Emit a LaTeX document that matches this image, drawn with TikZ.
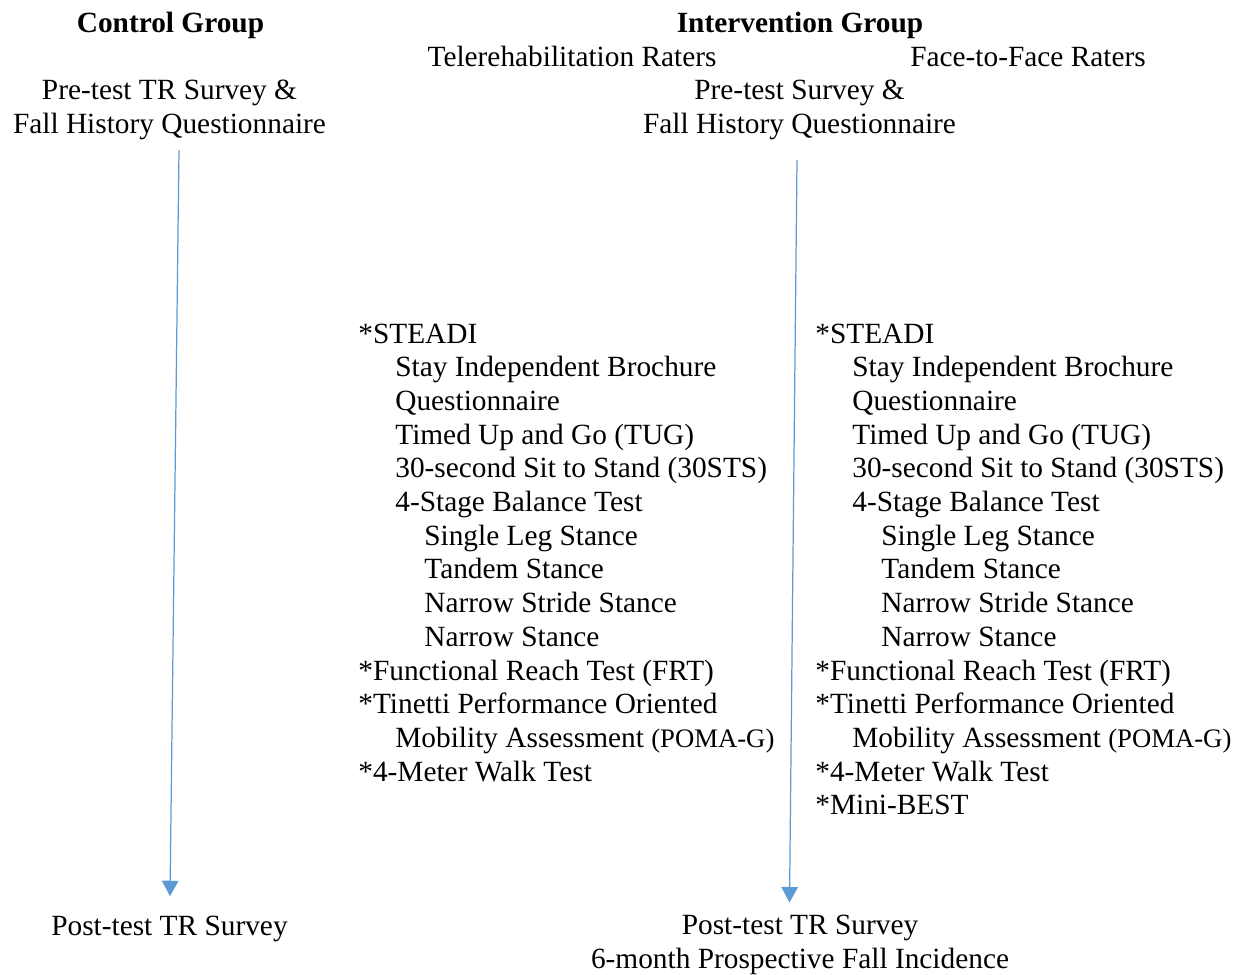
\documentclass[tikz,border=0pt]{standalone}
\usepackage{fontspec}
\setmainfont{Liberation Serif}
\usepackage{xcolor}
\usetikzlibrary{arrows.meta}
\definecolor{flowblue}{HTML}{5B9BD5}

\begin{document}
\begin{tikzpicture}
  [x=.02cm,y=.02cm,every node/.style={inner sep=0pt,align=center,anchor=base,font=\fontsize{16.7}{19.2}\selectfont},
   item/.style={anchor=base west},
   flow/.style={draw=flowblue,line width=.7pt,-{Triangle[length=.31cm,width=.33cm]}}]
  \useasboundingbox (0,0) rectangle (1237,-974);

  \node[font=\fontsize{16.7}{19.2}\selectfont\bfseries] (ctlhead) at (170.5,-32) {Control Group};
  \node[font=\fontsize{16.7}{19.2}\selectfont\bfseries] (inthead) at (800,-32) {Intervention Group};
  \node (telerh) at (572,-66) {Telerehabilitation Raters};
  \node (ftfr) at (1028,-66) {Face-to-Face Raters};
  \node (ctlpre) at (169.5,-133) {Pre-test TR Survey \&\\Fall History Questionnaire};
  \node (intpre) at (799.5,-133) {Pre-test Survey \&\\Fall History Questionnaire};

  \foreach \txt/\ind [count=\i] in {*STEADI/0,Stay Independent Brochure/37,Questionnaire/37,
      Timed Up and Go (TUG)/37,30-second Sit to Stand (30STS)/37,4-Stage Balance Test/37,
      Single Leg Stance/66,Tandem Stance/66,Narrow Stride Stance/66,Narrow Stance/66,
      *Functional Reach Test (FRT)/0,*Tinetti Performance Oriented/0,
      Mobility Assessment {\fontsize{15.2}{19.2}\selectfont(POMA-G)}/37,*4-Meter Walk Test/0}
  {
    \node[item] (cl\i) at ({358+\ind},{-343-(\i-1)*33.7}) {\txt};
    \node[item] (il\i) at ({815+\ind},{-343-(\i-1)*33.7}) {\txt};
  }
  \node[item] (il15) at (815,{-343-14*33.7}) {*Mini-BEST};

  \node (ctlpost) at (169.5,-935) {Post-test TR Survey};
  \node (intpost) at (800,-968) {Post-test TR Survey\\6-month Prospective Fall Incidence};

  \draw[flow] ([xshift=.19cm,yshift=-.21cm]ctlpre.south) -- ([xshift=.01cm,yshift=.38cm]ctlpost.north);
  \draw[flow] ([xshift=-.05cm,yshift=-.41cm]intpre.south) -- ([xshift=-.21cm,yshift=.24cm]intpost.north);

\end{tikzpicture}
\end{document}
